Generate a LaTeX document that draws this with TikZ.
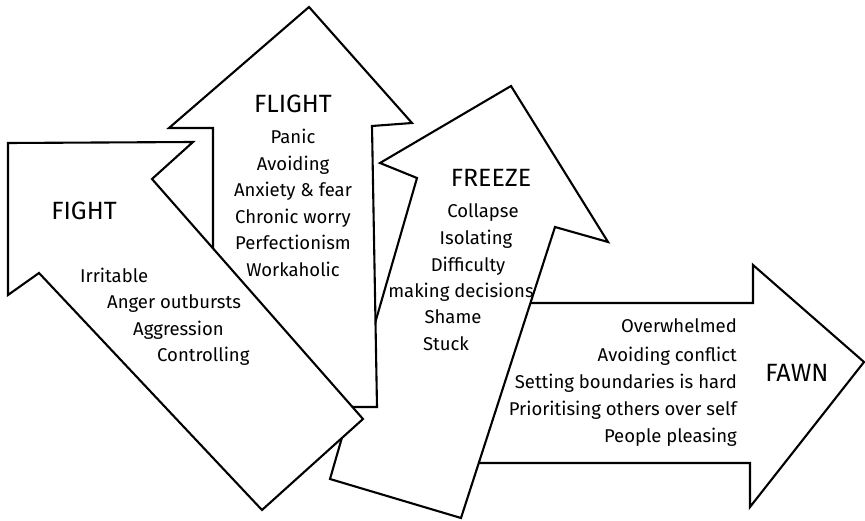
\documentclass[tikz,border=0pt]{standalone}
\usepackage{fontspec}
\setmainfont{Fira Sans}
\usetikzlibrary{positioning}

\begin{document}
\begin{tikzpicture}[
    x=1pt, y=-1pt,
    node distance=26.6pt,
    arrowshape/.style={draw, fill=white, line width=2.1pt, line join=miter},
    heading/.style={font=\fontsize{25}{28}\selectfont, text height=17pt, text depth=0pt, inner sep=0pt},
    item/.style={font=\fontsize{18.5}{21}\selectfont, text height=13pt, text depth=4pt, inner sep=0pt}
]
    \useasboundingbox (0,0) rectangle (865,521);

    % Arrows, back to front
    \draw [arrowshape] (864,362) -- (753,265) -- (753,303) -- (470,303) -- (470,463) -- (750,463) -- (750,507) -- cycle;
    \draw [arrowshape] (511,86) -- (608,242) -- (555,227) -- (461,518) -- (330,479) -- (417,178) -- (380,163) -- cycle;
    \draw [arrowshape] (309,7) -- (412,123) -- (372,126) -- (377,407) -- (213,407) -- (213,128) -- (169,128) -- cycle;
    \draw [arrowshape] (8,143) -- (193,142) -- (152,179) -- (363,419) -- (262,510) -- (39,273) -- (8,295) -- cycle;

    % Fight
    \node [heading] (fight) at (84,211) {FIGHT};
    \node [item, anchor=west] (irritable) at (80,278) {Irritable};
    \node [item, anchor=west] (anger) at (107,304) {Anger outbursts};
    \node [item, anchor=west] (aggression) at (133,331) {Aggression};
    \node [item, anchor=west] (controlling) at (157,357) {Controlling};

    % Flight
    \node [heading] (flight) at (293,104) {FLIGHT};
    \node [item] (panic) at (293,139) {Panic};
    \node [item, below of=panic] (avoiding) {Avoiding};
    \node [item, below of=avoiding] (anxiety) {Anxiety \& fear};
    \node [item, below of=anxiety] (worry) {Chronic worry};
    \node [item, below of=worry] (perfection) {Perfectionism};
    \node [item, below of=perfection] (workaholic) {Workaholic};

    % Freeze
    \node [heading] (freeze) at (491,178) {FREEZE};
    \node [item] (collapse) at (483,213) {Collapse};
    \node [item] (isolating) at (476,240) {Isolating};
    \node [item] (difficulty) at (468,267) {Difficulty};
    \node [item] (decisions) at (461,293) {making decisions};
    \node [item] (shame) at (453,319) {Shame};
    \node [item] (stuck) at (446,346) {Stuck};

    % Fawn
    \node [heading] (fawn) at (797,373) {FAWN};
    \node [item, anchor=east] (overwhelmed) at (737,328) {Overwhelmed};
    \node [item, anchor=east] (conflict) at (737,357) {Avoiding conflict};
    \node [item, anchor=east] (boundaries) at (737,384) {Setting boundaries is hard};
    \node [item, anchor=east] (others) at (737,411) {Prioritising others over self};
    \node [item, anchor=east] (pleasing) at (737,438) {People pleasing};
\end{tikzpicture}
\end{document}
